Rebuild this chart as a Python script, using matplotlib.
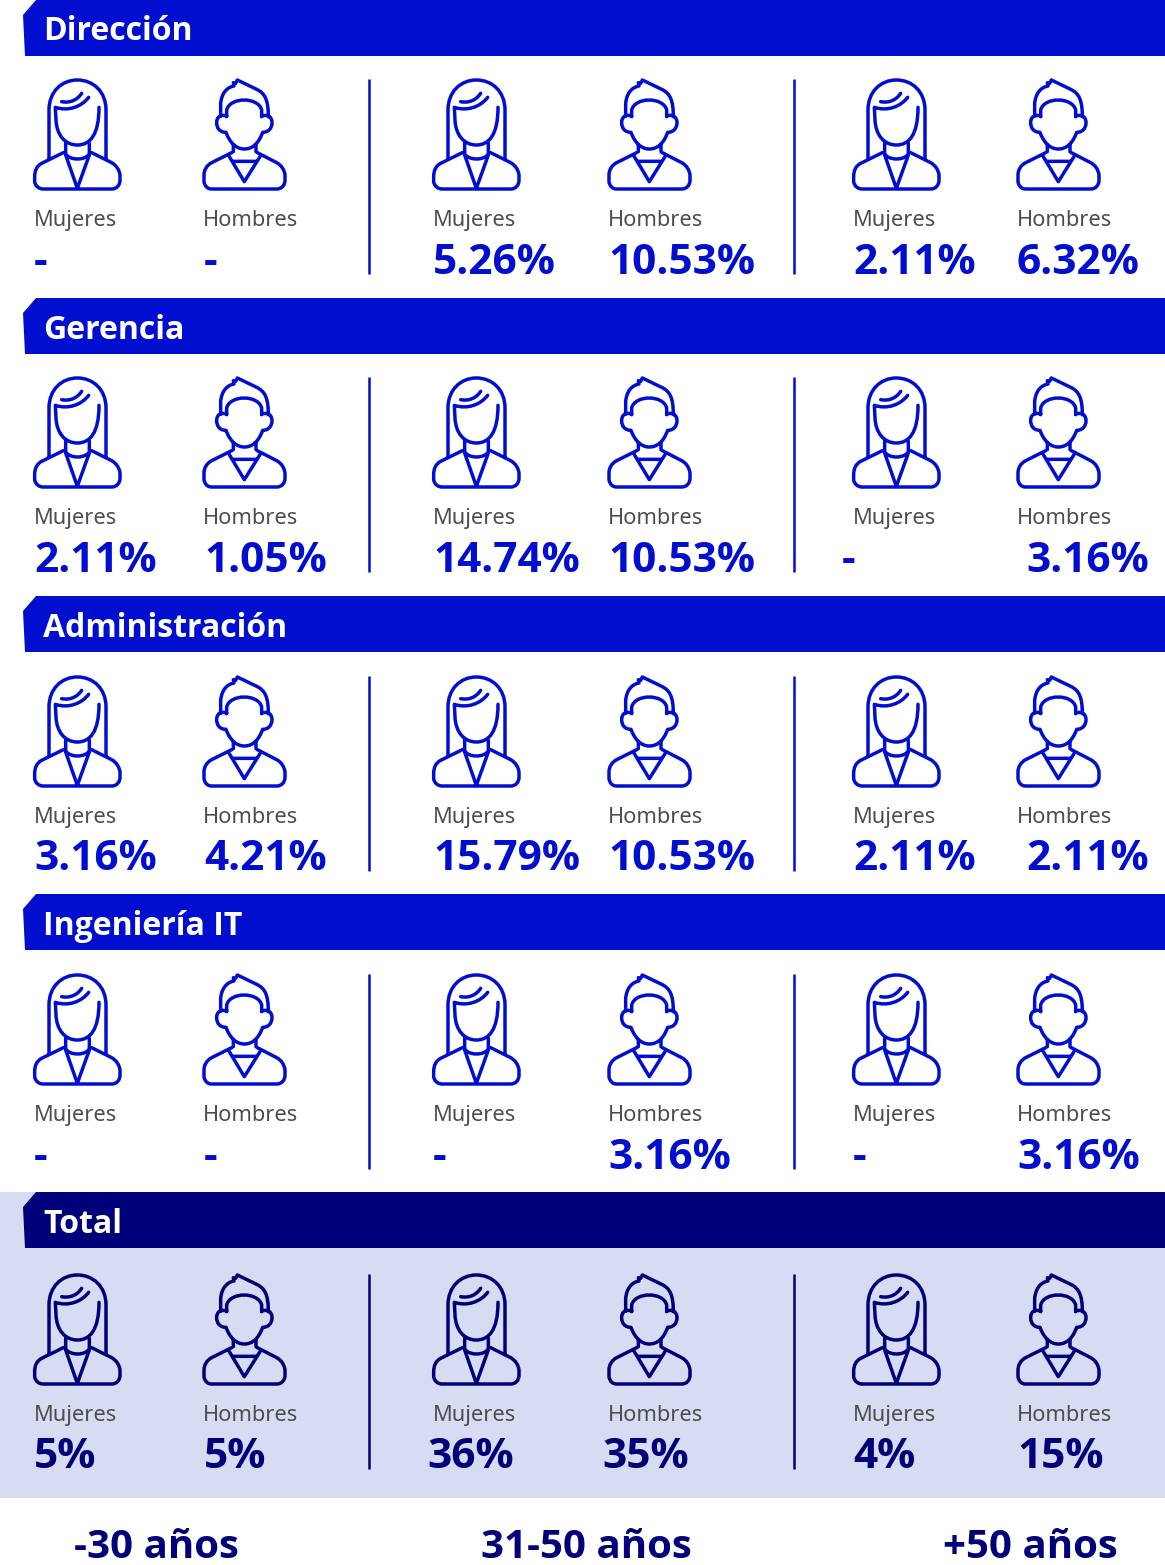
import matplotlib
matplotlib.use("Agg")
import matplotlib.pyplot as plt
from matplotlib.path import Path
from matplotlib.patches import PathPatch, Polygon, Rectangle

# ---- data ----
departments = ["Dirección", "Gerencia", "Administración", "Ingeniería IT", "Total"]
age_groups = ["-30 años", "31-50 años", "+50 años"]
genders = ["Mujeres", "Hombres"]
direccion = ["-", "-", "5.26%", "10.53%", "2.11%", "6.32%"]
gerencia = ["2.11%", "1.05%", "14.74%", "10.53%", "-", "3.16%"]
administracion = ["3.16%", "4.21%", "15.79%", "10.53%", "2.11%", "2.11%"]
ingenieria = ["-", "-", "-", "3.16%", "-", "3.16%"]
total = ["5%", "5%", "36%", "35%", "4%", "15%"]
rows = [direccion, gerencia, administracion, ingenieria, total]

# ---- layout (px) ----
W, H = 1165, 1565
BLUE, NAVY, TINT, GREY = "#000FCF", "#00007A", "#D7DCF2", "#4D4D4D"
FONT = "Open Sans"
LABEL_FONT = "Noto Sans"
header_top = [0, 298, 596, 894, 1192]
header_base = [40, 339, 637, 935, 1233]
icon_top = [79, 377, 676, 974, 1274]
label_base = [226, 524, 823, 1121, 1421]
value_base = [274, 572, 870, 1169, 1468]
icon_x = [34, 203, 433, 608, 853, 1017]
label_x = [34, 203, 433, 608, 853, 1017]
value_x = [
    [34, 204, 433, 608, 853, 1017],
    [34, 204, 433, 608, 842, 1026],
    [34, 204, 433, 608, 853, 1026],
    [34, 204, 433, 608, 853, 1017],
    [34, 204, 427, 602, 853, 1017],
]
sep_x = [369, 794]
age_x = [156, 586, 1030]

fig = plt.figure(figsize=(W / 100, H / 100), dpi=100, facecolor="white")
ax = fig.add_axes([0, 0, 1, 1])
ax.set_xlim(0, W)
ax.set_ylim(H, 0)
ax.axis("off")

M, L, C = Path.MOVETO, Path.LINETO, Path.CURVE4


def stroke(ops, dx, dy, color, ox, oy):
    """ops: list of (code, pts) in 3x-zoomed icon units."""
    v, c = [], []
    for code, pts in ops:
        for p in pts:
            v.append((p[0] / 3 + dx - ox, p[1] / 3 + dy - oy))
            c.append(code)
    ax.add_patch(PathPatch(Path(v, c), fill=False, ec=color, lw=2.5,
                           capstyle="round", joinstyle="round"))


WOMAN = [
    (M, [(147, 475)]), (L, [(147, 330)]),
    (C, [(147, 275), (185, 240), (232, 240)]),
    (C, [(280, 240), (318, 275), (318, 330)]), (L, [(318, 475)]),
    (M, [(266, 292)]), (C, [(245, 320), (205, 335), (166, 322)]),
    (L, [(168, 360)]),
    (C, [(170, 405), (195, 435), (232, 435)]),
    (C, [(270, 435), (297, 405), (297, 322)]),
    (M, [(185, 305)]), (C, [(210, 310), (232, 300), (245, 280)]),
    (M, [(197, 430)]), (L, [(197, 462)]),
    (C, [(210, 482), (255, 482), (268, 462)]), (L, [(268, 430)]),
    (M, [(190, 458)]), (L, [(125, 490)]),
    (C, [(110, 498), (104, 512), (104, 530)]), (L, [(104, 545)]),
    (C, [(106, 558), (116, 567), (130, 567)]), (L, [(335, 567)]),
    (C, [(350, 567), (360, 556), (360, 540)]), (L, [(360, 525)]),
    (C, [(358, 510), (350, 497), (335, 488)]), (L, [(275, 458)]),
    (M, [(197, 465)]), (L, [(232, 565)]), (L, [(268, 465)]),
]
MAN = [
    (M, [(662, 348)]), (L, [(662, 310)]),
    (C, [(665, 280), (680, 262), (702, 258)]),
    (L, [(700, 248)]), (L, [(707, 250)]), (L, [(712, 240)]),
    (L, [(770, 268)]),
    (C, [(795, 280), (805, 300), (805, 350)]),
    (M, [(680, 350)]), (L, [(680, 330)]),
    (C, [(690, 290), (775, 290), (785, 330)]), (L, [(785, 350)]),
    (M, [(680, 348)]), (C, [(660, 342), (650, 352), (650, 368)]),
    (C, [(650, 385), (660, 397), (678, 397)]),
    (C, [(690, 430), (710, 447), (733, 447)]),
    (C, [(758, 447), (776, 430), (788, 397)]),
    (C, [(805, 397), (816, 385), (816, 368)]),
    (C, [(816, 352), (805, 342), (785, 348)]),
    (M, [(700, 435)]), (L, [(700, 455)]),
    (M, [(768, 435)]), (L, [(768, 455)]),
    (M, [(695, 458)]), (L, [(635, 488)]),
    (C, [(620, 496), (612, 510), (612, 525)]), (L, [(612, 545)]),
    (C, [(614, 558), (622, 567), (635, 567)]), (L, [(830, 567)]),
    (C, [(845, 567), (855, 556), (855, 540)]), (L, [(855, 525)]),
    (C, [(853, 510), (845, 496), (830, 488)]), (L, [(772, 458)]),
    (M, [(688, 470)]), (L, [(733, 545)]), (L, [(780, 470)]),
    (M, [(700, 484)]), (L, [(768, 484)]),
]

# total band
ax.add_patch(Rectangle((0, header_top[4]), W, 1498 - header_top[4], fc=TINT, ec="none"))

for r, dep in enumerate(departments):
    col = NAVY if dep == "Total" else BLUE
    t = header_top[r]
    ax.add_patch(Polygon([(36, t), (W, t), (W, t + 56), (25, t + 56), (23, t + 15)],
                         closed=True, fc=col, ec="none"))
    ax.text(43, header_base[r], dep, color="white", fontsize=23, fontweight="bold",
            family=FONT, va="baseline", ha="left")
    for x in sep_x:
        ax.plot([x, x], [icon_top[r], icon_top[r] + 195], color=col, lw=1.8,
                solid_capstyle="butt")
    for i in range(6):
        if i % 2 == 0:
            stroke(WOMAN, icon_x[i], icon_top[r], col, 34, 79)
        else:
            stroke(MAN, icon_x[i], icon_top[r], col, 203, 79)
        ax.text(label_x[i], label_base[r], genders[i % 2], color=GREY, fontsize=15.7,
                family=LABEL_FONT, va="baseline", ha="left")
        ax.text(value_x[r][i], value_base[r], rows[r][i], color=col, fontsize=30.5,
                fontweight="bold", family=FONT, va="baseline", ha="left")

for x, lab in zip(age_x, age_groups):
    ax.text(x, 1558, lab, color=NAVY, fontsize=29, fontweight="bold",
            family=FONT, va="baseline", ha="center")

fig.savefig("out.png", dpi=100, facecolor="white")
